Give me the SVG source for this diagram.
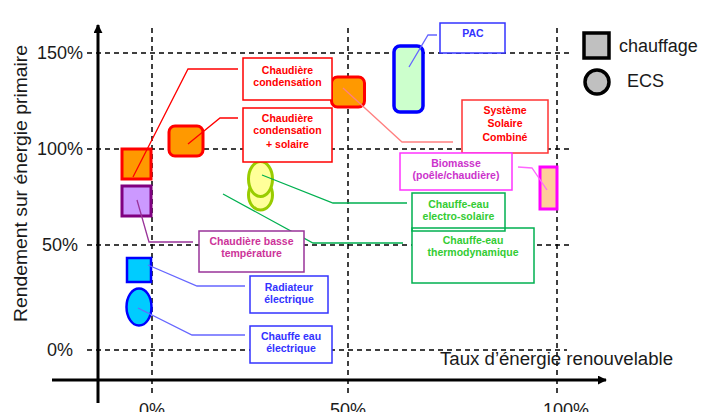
<svg xmlns="http://www.w3.org/2000/svg" width="701" height="412" viewBox="0 0 701 412">
<defs>
<style>
.grid{stroke:#000;stroke-width:1.5;stroke-dasharray:5,4;fill:none}
.axis{stroke:#000;stroke-width:3;fill:none}
.tick{font-family:"Liberation Sans",Arial,sans-serif;font-size:18px;fill:#1a1a1a}
.lbl{font-family:"Liberation Sans",Arial,sans-serif;font-size:10.5px;font-weight:bold;text-anchor:middle}
.box{fill:#fff;stroke-width:1.5}
.con{fill:none;stroke-width:1.3}
</style>
<marker id="arr" viewBox="0 0 10 10" refX="9" refY="5" markerWidth="3" markerHeight="3" orient="auto">
<path d="M0,0 L10,5 L0,10 z" fill="#000"/>
</marker>
</defs>
<rect width="701" height="412" fill="#fff"/>
<g id="grid">
<line class="grid" x1="87" y1="53" x2="573" y2="53"/>
<line class="grid" x1="87" y1="149" x2="573" y2="149"/>
<line class="grid" x1="87" y1="245" x2="573" y2="245"/>
<line class="grid" x1="87" y1="350" x2="567" y2="350"/>
<line class="grid" x1="152" y1="28" x2="152" y2="393"/>
<line class="grid" x1="348" y1="28" x2="348" y2="393"/>
<line class="grid" x1="557" y1="28" x2="557" y2="393"/>
</g>
<g id="axes">
<line class="axis" x1="98" y1="403" x2="98" y2="25" marker-end="url(#arr)"/>
<line class="axis" x1="52" y1="380" x2="606" y2="380" marker-end="url(#arr)"/>
<g class="tick" text-anchor="middle">
<text x="60" y="59">150%</text>
<text x="60" y="155">100%</text>
<text x="60" y="251">50%</text>
<text x="60" y="356">0%</text>
<text x="152" y="416">0%</text>
<text x="348" y="416">50%</text>
<text x="566" y="416">100%</text>
</g>
<text class="tick" x="440" y="365" textLength="233" lengthAdjust="spacingAndGlyphs">Taux d’énergie renouvelable</text>
<text class="tick" font-size="19" transform="translate(27,183.5) rotate(-90)" text-anchor="middle" textLength="277" lengthAdjust="spacingAndGlyphs">Rendement sur énergie primaire</text>
</g>
<g id="legend">
<rect x="584" y="33" width="25" height="25" fill="#c0c0c0" stroke="#000" stroke-width="3.5"/>
<text class="tick" font-size="19" x="619" y="52" fill="#111">chauffage</text>
<circle cx="597" cy="82" r="12" fill="#c0c0c0" stroke="#000" stroke-width="3.5"/>
<text class="tick" font-size="19" x="627" y="87" fill="#111">ECS</text>
</g>
<g id="n-chaudiere-condensation">
<rect x="122" y="149" width="29" height="30" fill="#ff9900" stroke="#ff0000" stroke-width="3"/>
</g>
<g id="n-chaudiere-basse-temperature">
<rect x="122" y="186" width="29" height="30" fill="#cc99ff" stroke="#800080" stroke-width="3"/>
</g>
<g id="n-chaudiere-condensation-solaire">
<rect x="169" y="126" width="34" height="30" rx="6" fill="#ff9900" stroke="#ff0000" stroke-width="3"/>
</g>
<g id="n-systeme-solaire-combine">
<rect x="331.5" y="77" width="33" height="30" rx="6" fill="#ff9900" stroke="#ff0000" stroke-width="3"/>
</g>
<g id="n-pac">
<rect x="394" y="46" width="29" height="66" rx="6" fill="#ccffcc" stroke="#0000ff" stroke-width="3.5"/>
</g>
<g id="n-biomasse">
<rect x="540" y="167" width="17" height="42" fill="#ffcc99" stroke="#ff00ff" stroke-width="3"/>
</g>
<g id="n-chauffe-eau-electro-solaire">
<ellipse cx="260.5" cy="195" rx="12" ry="15" fill="#ffff99" stroke="#99cc00" stroke-width="3"/>
<ellipse cx="260.5" cy="179" rx="12" ry="17.5" fill="#ffff99" stroke="#99cc00" stroke-width="3"/>
</g>
<g id="n-radiateur-electrique">
<rect x="127" y="258" width="24" height="24" fill="#00ccff" stroke="#0000ff" stroke-width="2.5"/>
</g>
<g id="n-chauffe-eau-electrique">
<ellipse cx="139" cy="307" rx="12.5" ry="18.5" fill="#00ccff" stroke="#0000ff" stroke-width="2.5"/>
</g>
<g id="connectors">
<polyline class="con" stroke="#ff0000" points="133,177 188,69 238,69"/>
<polyline class="con" stroke="#ff0000" points="188,144 220,118 238,118"/>
<polyline class="con" stroke="#ff8080" stroke-width="2" points="343,88 402,142 453,142"/>
<polyline class="con" stroke="#6666ff" stroke-width="1.5" points="409,67 428,35 437,35"/>
<polyline class="con" stroke="#ff66ff" stroke-width="1.5" points="518,167 532,168 547,190"/>
<polyline class="con" stroke="#00b050" points="262,175 333,203 407,203"/>
<polyline class="con" stroke="#00b050" points="223,194 313,243 403,243"/>
<polyline class="con" stroke="#993399" points="137,200 149,242 193,242"/>
<polyline class="con" stroke="#6666ff" stroke-width="1.5" points="148,265 197,286 245,286"/>
<polyline class="con" stroke="#6666ff" stroke-width="1.5" points="138,308 192,335 245,335"/>
</g>
<g id="l-chaudiere-condensation">
<rect class="box" x="243" y="58" width="89" height="42" stroke="#ff0000"/>
<text class="lbl" fill="#ff0000" x="287.5" y="74">Chaudière</text>
<text class="lbl" fill="#ff0000" x="287.5" y="86">condensation</text>
</g>
<g id="l-chaudiere-condensation-solaire">
<rect class="box" x="243" y="108" width="89" height="54" stroke="#ff0000"/>
<text class="lbl" fill="#ff0000" x="287.5" y="122">Chaudière</text>
<text class="lbl" fill="#ff0000" x="287.5" y="134">condensation</text>
<text class="lbl" fill="#ff0000" x="287.5" y="148">+ solaire</text>
</g>
<g id="l-pac">
<rect class="box" x="440" y="23" width="65" height="30" stroke="#3333ff"/>
<text class="lbl" fill="#3333ff" x="473" y="37">PAC</text>
</g>
<g id="l-systeme-solaire-combine">
<rect class="box" x="462" y="100" width="86" height="53" stroke="#ff3333" stroke-width="2"/>
<text class="lbl" fill="#ff0000" x="505" y="114">Système</text>
<text class="lbl" fill="#ff0000" x="505" y="127">Solaire</text>
<text class="lbl" fill="#ff0000" x="505" y="141">Combiné</text>
</g>
<g id="l-biomasse">
<rect class="box" x="400" y="153" width="112" height="37" stroke="#ff33ff"/>
<text class="lbl" fill="#cc33cc" x="456" y="167">Biomasse</text>
<text class="lbl" fill="#cc33cc" x="456" y="179">(poêle/chaudière)</text>
</g>
<g id="l-chauffe-eau-thermodynamique">
<rect class="box" x="412" y="228" width="122" height="55" stroke="#00b050"/>
<text class="lbl" fill="#33cc33" x="473" y="244">Chauffe-eau</text>
<text class="lbl" fill="#33cc33" x="473" y="256">thermodynamique</text>
</g>
<g id="l-chauffe-eau-electro-solaire">
<rect x="412" y="193" width="93" height="38" fill="none" stroke="#00b050" stroke-width="1.5"/>
<text class="lbl" fill="#33cc33" x="458.5" y="208">Chauffe-eau</text>
<text class="lbl" fill="#33cc33" x="458.5" y="220">electro-solaire</text>
</g>
<g id="l-chaudiere-basse-temperature">
<rect class="box" x="199" y="231" width="105" height="41" stroke="#993399"/>
<text class="lbl" fill="#cc3399" x="251.5" y="245">Chaudière basse</text>
<text class="lbl" fill="#cc3399" x="251.5" y="257">température</text>
</g>
<g id="l-radiateur-electrique">
<rect class="box" x="250" y="276" width="78" height="37" stroke="#3333ff" stroke-width="2"/>
<text class="lbl" fill="#3333ff" x="289" y="291">Radiateur</text>
<text class="lbl" fill="#3333ff" x="289" y="303">électrique</text>
</g>
<g id="l-chauffe-eau-electrique">
<rect class="box" x="250" y="326" width="82" height="37" stroke="#3333ff" stroke-width="2"/>
<text class="lbl" fill="#3333ff" x="291" y="340">Chauffe eau</text>
<text class="lbl" fill="#3333ff" x="291" y="352">électrique</text>
</g>
</svg>
